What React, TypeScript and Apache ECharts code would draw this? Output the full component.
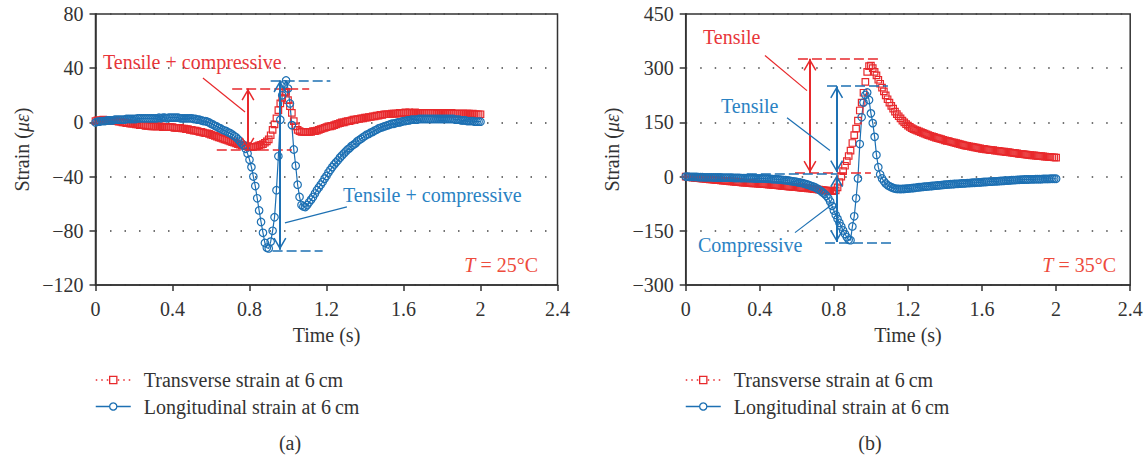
import React, { useEffect, useRef } from "react";
import * as echarts from "echarts";

// sample times (s), 0.00 … 2.00
const TIME: number[] = Array.from({ length: 201 }, (_, i) => i / 100);

// (a) T = 25 °C
const A_TRANS = [
  1, 1.5, 1.5, 1.5, 2, 1.5, 1.5, 1.5, 1, 1,
  1, 1, 0.5, 0.5, 0, 0, -0.5, -0.5, -1, -1,
  -1, -1.5, -1.5, -2, -2, -2, -2.5, -2.5, -2.5, -3,
  -3, -3, -3, -3, -3, -3.5, -3.5, -3.5, -3.5, -3.5,
  -3.5, -4, -4, -4, -4, -4.5, -4.5, -5, -5, -5.5,
  -5.5, -6, -6, -6.5, -7, -7, -7.5, -8, -8, -8.5,
  -9, -9.5, -10, -10.5, -11, -11.5, -12, -12.5, -13, -13.5,
  -14, -14.5, -15, -15.5, -16, -16.5, -17, -17, -17.5, -17.5,
  -18, -18, -18, -18, -17.5, -17, -16.5, -16, -15, -14,
  -12.5, -9.5, -5.5, -1.5, 3, 9, 14, 18, 22, 22.5,
  16.5, 12, 7, 1, -3, -5.5, -6.5, -7, -7, -7,
  -7, -7, -7, -6.5, -6.5, -6, -5.5, -5, -4.5, -4,
  -3.5, -3, -3, -2.5, -2, -1.5, -1, -0.5, 0, 0,
  0.5, 1, 1, 1.5, 2, 2, 2.5, 2.5, 3, 3,
  3.5, 3.5, 4, 4, 4.5, 4.5, 5, 5, 5.5, 5.5,
  6, 6, 6, 6, 6.5, 6.5, 6.5, 6.5, 7, 7,
  7, 7.5, 7, 7.5, 7, 7, 7.5, 7, 7, 7,
  7, 7, 7, 7, 7, 7, 7, 6.5, 7, 7,
  7, 6.5, 7, 6.5, 6.5, 7, 6.5, 6.5, 6.5, 6.5,
  6.5, 6.5, 6.5, 6.5, 6.5, 6, 6.5, 6, 6, 6,
  6,
];
const A_LONG = [
  0, 0.5, 0.5, 1, 1, 1, 1.5, 1.5, 1.5, 1.5,
  2, 2, 2, 2, 2, 2, 2.5, 2.5, 2.5, 2.5,
  2.5, 2.5, 3, 3, 3, 3, 3, 3, 3, 3,
  3, 3, 3, 3.5, 3, 3.5, 3.5, 3, 3.5, 3.5,
  3.5, 3.5, 3.5, 3.5, 3, 3, 3, 3, 3, 3,
  3, 2.5, 2.5, 2, 2, 1.5, 1, 1, 0.5, 0,
  -1, -1.5, -2.5, -3, -4, -4.5, -5.5, -6, -6.5, -7.5,
  -8, -9, -10, -11, -12.5, -14, -15.5, -17, -19.5, -23,
  -27.5, -33, -40, -47, -56, -65, -73.5, -81.5, -89, -92.5,
  -93, -88, -80, -70, -50, -25, 2, 20, 28, 31,
  25, 14, -2, -20, -32, -46, -55, -61, -62, -62.5,
  -61, -59, -57, -55, -52.5, -50, -48, -46, -44, -41.5,
  -39.5, -37, -35, -33, -31, -29.5, -28, -26, -24.5, -23,
  -21.5, -20, -19, -17.5, -16.5, -15.5, -14, -13, -12, -11,
  -10, -9, -8.5, -7.5, -7, -6, -5.5, -4.5, -4, -3.5,
  -3, -2.5, -2, -1.5, -1, -1, -0.5, 0, 0, 0.5,
  1, 1, 1.5, 1.5, 2, 2, 2, 2, 2.5, 2.5,
  2.5, 2.5, 2.5, 2.5, 2.5, 2.5, 2.5, 2.5, 2.5, 2.5,
  2.5, 2.5, 2.5, 2.5, 2.5, 2.5, 2.5, 2, 2, 2,
  1.5, 1.5, 1.5, 1, 1, 1, 1, 0.5, 0.5, 0.5,
  0.5,
];

// (b) T = 35 °C
const B_TRANS = [
  0, -1, -1.5, -2, -3, -3.5, -4, -4.5, -5, -5.5,
  -6, -6.5, -7, -7.5, -8, -8.5, -9, -9.5, -10, -10.5,
  -11, -11.5, -12, -12.5, -13, -13.5, -14, -14.5, -15, -15.5,
  -16, -16.5, -17, -17, -17.5, -18, -18.5, -19, -19, -19.5,
  -20, -20.5, -21, -21, -21.5, -22, -22.5, -23, -23.5, -24,
  -24.5, -25, -25.5, -26, -26.5, -27, -27.5, -28, -28.5, -29,
  -29.5, -30, -30.5, -31, -31.5, -32, -32.5, -33, -33.5, -34.5,
  -35, -35.5, -36, -37, -37.5, -38, -38.5, -39, -39.5, -40,
  -40, -38, -30, -15, 0, 15, 30, 43, 57, 72,
  93, 115, 133, 155, 183, 205, 232, 262, 290, 306,
  307, 300, 290, 280, 268, 257, 246, 236, 225, 214,
  205, 196, 188, 180, 173, 167, 161, 155, 150, 145,
  141, 137.5, 134, 131.5, 129, 127, 125, 123, 121, 119,
  117, 115, 113, 111.5, 110, 108, 106.5, 105, 103.5, 102,
  100.5, 99, 98, 96.5, 95, 94, 92.5, 91, 90, 88.5,
  87, 86, 85, 84, 83, 82, 81, 80, 79, 78,
  77, 76.5, 75.5, 75, 74, 73.5, 73, 72, 71.5, 71,
  70, 69.5, 69, 68, 67.5, 67, 66, 65.5, 65, 64,
  63, 62.5, 62, 61.5, 61, 60, 59.5, 59, 58.5, 58,
  57.5, 57, 56.5, 56, 55.5, 55, 54.5, 54, 53.5, 53,
  52.5,
];
const B_LONG = [
  0, 0, -0.5, -0.5, -1, -1, -1, -1.5, -1.5, -1.5,
  -2, -2, -2, -2, -2, -2.5, -2.5, -2.5, -2.5, -2.5,
  -3, -3, -3, -3, -3, -3, -3.5, -3.5, -3.5, -3.5,
  -4, -4, -4, -4, -4.5, -4.5, -4.5, -5, -5, -5,
  -5, -5, -5.5, -5.5, -6, -6, -6.5, -7, -7, -7.5,
  -8, -8.5, -9, -9.5, -10, -11, -11.5, -12.5, -13, -14,
  -15, -16, -17, -18, -19.5, -21, -22.5, -24.5, -26.5, -28,
  -30, -33, -36.5, -40, -44, -48, -53, -60, -69, -81,
  -94, -106, -117, -128, -138, -149, -159, -168, -175, -176,
  -138, -110, -60, -5, 90, 164, 205, 226, 233, 212,
  175, 148, 110, 60, 26, 6, -5, -13, -19, -24,
  -27, -29.5, -31.5, -33, -34, -34, -34.5, -34, -34, -33.5,
  -33, -32.5, -32, -31.5, -31, -30, -29.5, -29, -28.5, -28,
  -27.5, -27, -26.5, -26, -25.5, -25, -24.5, -24, -23.5, -23,
  -22.5, -22, -21.5, -21, -21, -20.5, -20, -20, -19.5, -19,
  -19, -18.5, -18, -18, -17.5, -17, -17, -16.5, -16, -16,
  -15.5, -15, -15, -14.5, -14, -14, -13.5, -13, -13, -12.5,
  -12, -12, -11.5, -11, -11, -10.5, -10, -9.5, -9.5, -9,
  -9, -8.5, -8.5, -8, -8, -8, -7.5, -7.5, -7.5, -7,
  -7, -7, -7, -6.5, -6.5, -6.5, -6.5, -6, -6, -6,
  -6,
];

const SERIES_NAMES = ["Transverse strain at 6\u2009cm", "Longitudinal strain at 6\u2009cm"];
const PANEL_TEMPS = ["25", "35"];
const CAPTIONS = ["(a)", "(b)"];

const RED = "#e8292c";
const BLUE = "#1d70b3";
const RED_TXT = "#e8363a";
const BLUE_TXT = "#2a82c3";
const TEXT = "#333333";
const FONT = '"Liberation Serif", "Times New Roman", serif';

// open "V" arrow head, tip at the centre of its box
const ARROW =
  "path://M0,-12 L0.02,-12 L0,-11.98 Z M0,0 L6.5,11.2 L5.2,12 L0,3 L-5.2,12 L-6.5,11.2 Z";

type Seg = [number, number, number, number];

function segs(list: Seg[], style: any, heads: [string, string] = ["none", "none"]) {
  return list.map(([x1, y1, x2, y2]) => [
    { coord: [x1, y1], symbol: heads[0], symbolSize: [13, 24], lineStyle: style },
    { coord: [x2, y2], symbol: heads[1], symbolSize: [13, 24], lineStyle: style },
  ]);
}

const dashed = (c: string) => ({ type: [10, 4], width: 1.5, color: c, opacity: 1 });
const solid = (c: string, w: number) => ({ type: "solid", width: w, color: c, opacity: 1 });

function markLine(data: any[]) {
  return {
    silent: true,
    animation: false,
    symbol: ["none", "none"],
    label: { show: false },
    emphasis: { disabled: true },
    data,
  };
}

// annotation geometry in data units
const A_RED_MARKS = [
  ...segs([[0.71, 25, 1.11, 25], [0.63, -20, 1.02, -20]], dashed(RED)),
  ...segs([[0.792, 25, 0.792, -20]], solid(RED, 2), [ARROW, ARROW]),
  ...segs([[0.558, 32.8, 0.777, 7.7]], solid(RED, 1.2)),
];
const A_BLUE_MARKS = [
  ...segs([[0.91, 31, 1.22, 31], [0.92, -94.5, 1.18, -94.5]], dashed(BLUE)),
  ...segs([[0.958, 31, 0.958, -94]], solid(BLUE, 2), [ARROW, ARROW]),
  ...segs([[1.306, -62.4, 0.984, -74.2]], solid(BLUE, 1.2)),
];
const B_RED_MARKS = [
  ...segs([[0.606, 326, 1.049, 326], [0.59, 11, 1.0, 11]], dashed(RED)),
  ...segs([[0.671, 326, 0.671, 11]], solid(RED, 2), [ARROW, ARROW]),
  ...segs([[0.428, 335, 0.655, 238]], solid(RED, 1.2)),
];
const B_BLUE_MARKS = [
  ...segs([[0.763, 252, 1.092, 252], [0.33, 8, 0.82, 8], [0.752, -183, 1.119, -183]], dashed(BLUE)),
  ...segs([[0.815, 250, 0.815, 12], [0.815, 4, 0.815, -181]], solid(BLUE, 2), [ARROW, ARROW]),
  ...segs([[0.547, 163, 0.779, 72], [0.59, -155, 0.795, -75]], solid(BLUE, 1.2)),
];

const pairs = (ys: number[]) => TIME.map((t, i) => [t, ys[i]]);

function yFmt(v: number) {
  return v < 0 ? "\u2212" + Math.abs(v) : String(v);
}
function xFmt(v: number) {
  return String(Math.round(v * 10) / 10);
}

function makeGrid(left: number, width: number) {
  return {
    left,
    top: 14,
    width,
    height: 271,
    show: true,
    borderColor: TEXT,
    borderWidth: 1.5,
    backgroundColor: "transparent",
  };
}

const axisLine = { show: true, onZero: false, lineStyle: { color: TEXT, width: 1.5 } };
const axisTick = { show: true, inside: false, length: 6, lineStyle: { color: TEXT, width: 1.5 } };

function xAxis(gridIndex: number) {
  return {
    type: "value",
    gridIndex,
    min: 0,
    max: 2.4,
    interval: 0.4,
    name: "Time (s)",
    nameLocation: "middle",
    nameGap: 40,
    nameTextStyle: { fontFamily: FONT, fontSize: 20, color: TEXT },
    axisLine,
    axisTick,
    splitLine: { show: false },
    axisLabel: { formatter: xFmt, fontFamily: FONT, fontSize: 20, color: TEXT, margin: 14 },
  };
}

function yAxis(gridIndex: number, min: number, max: number, interval: number) {
  return {
    type: "value",
    gridIndex,
    min,
    max,
    interval,
    name: "Strain ({i|\u03bc\u03b5})",
    nameLocation: "middle",
    nameGap: 64,
    nameTextStyle: {
      fontFamily: FONT,
      fontSize: 20,
      color: TEXT,
      rich: { i: { fontFamily: FONT, fontSize: 20, color: TEXT, fontStyle: "italic" } },
    },
    axisLine,
    axisTick,
    splitLine: { show: true, lineStyle: { type: [1.5, 13], color: "#444", width: 1.5 } },
    axisLabel: { formatter: yFmt, fontFamily: FONT, fontSize: 20, color: TEXT, margin: 12 },
  };
}

function transSeries(idx: number, ys: number[], marks: any[]) {
  return {
    name: SERIES_NAMES[0],
    type: "line",
    xAxisIndex: idx,
    yAxisIndex: idx,
    data: pairs(ys),
    symbol: "rect",
    symbolSize: 6.5,
    showAllSymbol: true,
    lineStyle: { color: RED, width: 1, type: "dotted", opacity: 0 },
    itemStyle: { color: "rgba(255,255,255,0)", borderColor: RED, borderWidth: 1.2 },
    emphasis: { disabled: true },
    markLine: markLine(marks),
  };
}

function longSeries(idx: number, ys: number[], marks: any[]) {
  return {
    name: SERIES_NAMES[1],
    type: "line",
    xAxisIndex: idx,
    yAxisIndex: idx,
    data: pairs(ys),
    symbol: "circle",
    symbolSize: 7.5,
    showAllSymbol: true,
    lineStyle: { color: BLUE, width: 1.2 },
    itemStyle: { color: "rgba(255,255,255,0)", borderColor: BLUE, borderWidth: 1.2 },
    emphasis: { disabled: true },
    markLine: markLine(marks),
  };
}

function legend(left: number) {
  return {
    left,
    top: 370,
    orient: "vertical",
    padding: 0,
    itemGap: 6.5,
    itemWidth: 35,
    itemHeight: 9,
    selectedMode: false,
    textStyle: { fontFamily: FONT, fontSize: 20, color: TEXT, lineHeight: 20, padding: [0, 0, 0, 8] },
    data: [
      {
        name: SERIES_NAMES[0],
        itemStyle: { color: "#fff", borderColor: RED, borderWidth: 1.3 },
        lineStyle: { color: RED, width: 1.5, type: [1.5, 4], opacity: 1 },
      },
      {
        name: SERIES_NAMES[1],
        itemStyle: { color: "#fff", borderColor: BLUE, borderWidth: 1.3 },
        lineStyle: { color: BLUE, width: 1.5, type: "solid", opacity: 1 },
      },
    ],
  };
}

function txt(x: number, y: number, text: string, fill: string, align = "left", rich?: any) {
  return {
    type: "text",
    x,
    y,
    silent: true,
    style: {
      text,
      fill,
      fontFamily: FONT,
      fontSize: 20,
      align,
      verticalAlign: "middle",
      textAlign: align,
      textVerticalAlign: "middle",
      rich,
    },
  };
}

const italicRich = (c: string) => ({
  i: { fontFamily: FONT, fontSize: 20, fill: c, color: c, fontStyle: "italic" },
});

export default function App() {
  const ref = useRef<HTMLDivElement>(null);

  useEffect(() => {
    if (!ref.current) return;
    const chart = echarts.init(ref.current, null, { renderer: "svg" });
    const tColor = "#ee4b3c";
    chart.setOption({
      animation: false,
      backgroundColor: "#ffffff",
      textStyle: { fontFamily: FONT },
      grid: [makeGrid(95.5, 462), makeGrid(685.7, 444.5)],
      xAxis: [xAxis(0), xAxis(1)],
      yAxis: [yAxis(0, -120, 80, 40), yAxis(1, -300, 450, 150)],
      legend: [legend(95), legend(685)],
      series: [
        transSeries(0, A_TRANS, A_RED_MARKS),
        longSeries(0, A_LONG, A_BLUE_MARKS),
        transSeries(1, B_TRANS, B_RED_MARKS),
        longSeries(1, B_LONG, B_BLUE_MARKS),
      ],
      graphic: [
        txt(103, 62, "Tensile + compressive", RED_TXT),
        txt(343, 195, "Tensile + compressive", BLUE_TXT),
        txt(538, 265, "{i|T} = " + PANEL_TEMPS[0] + "\u00b0C", tColor, "right", italicRich(tColor)),
        txt(703, 37, "Tensile", RED_TXT),
        txt(721, 106, "Tensile", BLUE_TXT),
        txt(698, 245, "Compressive", BLUE_TXT),
        txt(1116, 265, "{i|T} = " + PANEL_TEMPS[1] + "\u00b0C", tColor, "right", italicRich(tColor)),
        txt(290, 443, CAPTIONS[0], TEXT, "center"),
        txt(870, 443, CAPTIONS[1], TEXT, "center"),
      ],
    });
    return () => chart.dispose();
  }, []);

  return (
    <div
      ref={ref}
      style={{ position: "absolute", left: 0, top: 0, width: 1146, height: 460, background: "#fff" }}
    />
  );
}
